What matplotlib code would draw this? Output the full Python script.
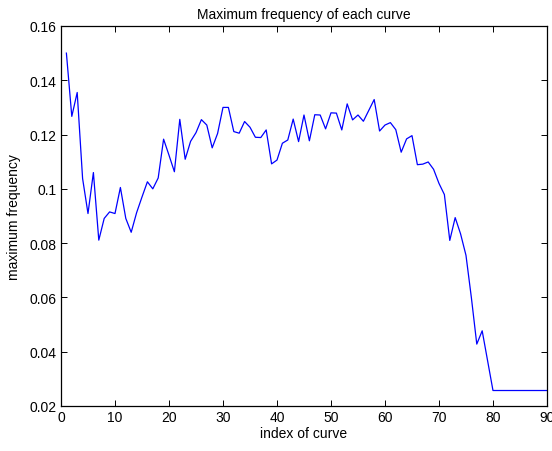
import numpy as np
import matplotlib
matplotlib.use("Agg")
import matplotlib.pyplot as plt

# data (curve index 1..90)
max_freq = [0.150, 0.1267, 0.1355, 0.1038, 0.0909, 0.1060, 0.0811, 0.0891, 0.0915, 0.0909,
            0.1005, 0.0891, 0.0840, 0.0912, 0.0970, 0.1026, 0.1000, 0.1040, 0.1183, 0.1124,
            0.1063, 0.1256, 0.1109, 0.1175, 0.1207, 0.1255, 0.1235, 0.1151, 0.1204, 0.1300,
            0.1300, 0.1211, 0.1205, 0.1248, 0.1227, 0.1190, 0.1189, 0.1217, 0.1092, 0.1106,
            0.1168, 0.1180, 0.1257, 0.1174, 0.1272, 0.1177, 0.1273, 0.1272, 0.1221, 0.1280,
            0.1279, 0.1217, 0.1313, 0.1254, 0.1272, 0.1249, 0.1289, 0.1329, 0.1213, 0.1235,
            0.1244, 0.1218, 0.1135, 0.1184, 0.1196, 0.1089, 0.1091, 0.1099, 0.1072, 0.1020,
            0.0979, 0.0810, 0.0894, 0.0834, 0.0755, 0.0599, 0.0428, 0.0477, 0.0367, 0.0257,
            0.0257, 0.0257, 0.0257, 0.0257, 0.0257, 0.0257, 0.0257, 0.0257, 0.0257, 0.0257]
curve_idx = np.arange(1, len(max_freq) + 1)

x_ticks = [0, 10, 20, 30, 40, 50, 60, 70, 80, 90]
y_ticks = [0.02, 0.04, 0.06, 0.08, 0.10, 0.12, 0.14, 0.16]
y_labels = ['0.02', '0.04', '0.06', '0.08', '0.1', '0.12', '0.14', '0.16']

plt.rcParams['font.family'] = ['Liberation Sans', 'DejaVu Sans']
plt.rcParams['font.size'] = 10

fig = plt.figure(figsize=(5.52, 4.52), dpi=100)
ax = fig.add_axes([0.1105, 0.0996, 0.8804, 0.8407])

ax.plot(curve_idx, max_freq, color='#0000ff', linewidth=0.9)

ax.set_xlim(0, 90)
ax.set_ylim(0.02, 0.16)
ax.set_xticks(x_ticks)
ax.set_yticks(y_ticks)
ax.set_yticklabels(y_labels)
ax.tick_params(direction='in', top=True, right=True, length=4, width=0.7, pad=3)
for s in ax.spines.values():
	s.set_linewidth(0.9)

ax.set_xlabel('index of curve', labelpad=1)
ax.set_ylabel('maximum frequency', labelpad=6)
ax.set_title('Maximum frequency of each curve', fontsize=10, pad=6)

fig.savefig('out.png', dpi=100)
